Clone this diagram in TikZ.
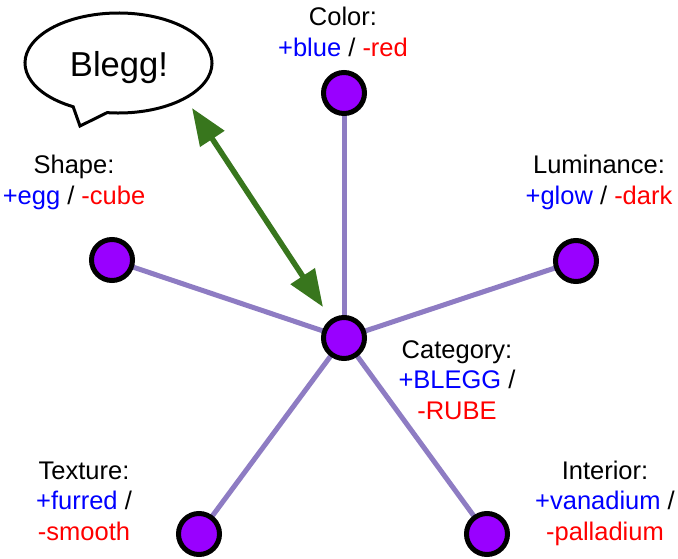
\documentclass[tikz,border=0pt]{standalone}
\usepackage{fontspec}
\setmainfont{Liberation Sans}
\usetikzlibrary{arrows.meta,backgrounds}
\definecolor{nodefill}{HTML}{9900FF}
\definecolor{edgecol}{HTML}{8E7CC3}
\definecolor{arrowgreen}{HTML}{38761D}
\definecolor{plusblue}{HTML}{0000FF}
\definecolor{minusred}{HTML}{FF0000}
\newcommand\pl[1]{\textcolor{plusblue}{#1}}
\newcommand\mn[1]{\textcolor{minusred}{#1}}
\begin{document}
\begin{tikzpicture}[x=1pt,y=1pt,yscale=-1,
  feat/.style={circle, draw=black, line width=5pt, fill=nodefill, minimum size=41pt, inner sep=0pt},
  spoke/.style={draw=edgecol, line width=5pt},
  lbl/.style={font=\fontsize{25.5}{30.5}\selectfont, align=center, inner sep=0pt, anchor=base},
  bubble/.style={draw=black, line width=3pt, fill=white, line join=miter},
  twoway/.style={draw=arrowgreen, line width=5.5pt, {Triangle[length=37pt,width=28pt]}-{Triangle[length=37pt,width=28pt]}}
]
\useasboundingbox (0,0) rectangle (678,558);
% feature nodes
\node[feat] (cat) at (344,338) {};
\node[feat] (color) at (344,93) {};
\node[feat] (lum) at (576,261) {};
\node[feat] (shape) at (112,260) {};
\node[feat] (tex) at (199,534) {};
\node[feat] (int) at (487,534) {};
% spokes
\begin{pgfonlayer}{background}
\fill[white] (0,0) rectangle (678,558);
\foreach \n in {color,lum,shape,tex,int}
  \draw[spoke] (cat.center) -- (\n.center);
\end{pgfonlayer}
% labels (base anchor = baseline of last line)
\node[lbl] (lcolor) at (343,56) {Color:\\ \pl{+blue} / \mn{-red}};
\node[lbl] (llum) at (599,204) {Luminance:\\ \pl{+glow} / \mn{-dark}};
\node[lbl] (lshape) at (74,204) {Shape:\\ \pl{+egg} / \mn{-cube}};
\node[lbl] (lcat) at (457,419) {Category:\\ \pl{+BLEGG} /\\ \mn{-RUBE}};
\node[lbl] (ltex) at (84,540) {Texture:\\ \pl{+furred} /\\ \mn{-smooth}};
\node[lbl] (lint) at (605,540) {Interior:\\ \pl{+vanadium} /\\ \mn{-palladium}};
% speech bubble
\draw[bubble] (73.17,106.73) arc[start angle=119, end angle=457, x radius=93.5, y radius=50] -- (80,126) -- cycle;
\node[font=\fontsize{34.6}{40}\selectfont, inner sep=0pt, anchor=base] (blegg) at (119,76) {Blegg!};
% two-way arrow
\coordinate (bt) at (192,108);
\coordinate (ct) at (323,307);
\draw[twoway] (bt) -- (ct);
\end{tikzpicture}
\end{document}
